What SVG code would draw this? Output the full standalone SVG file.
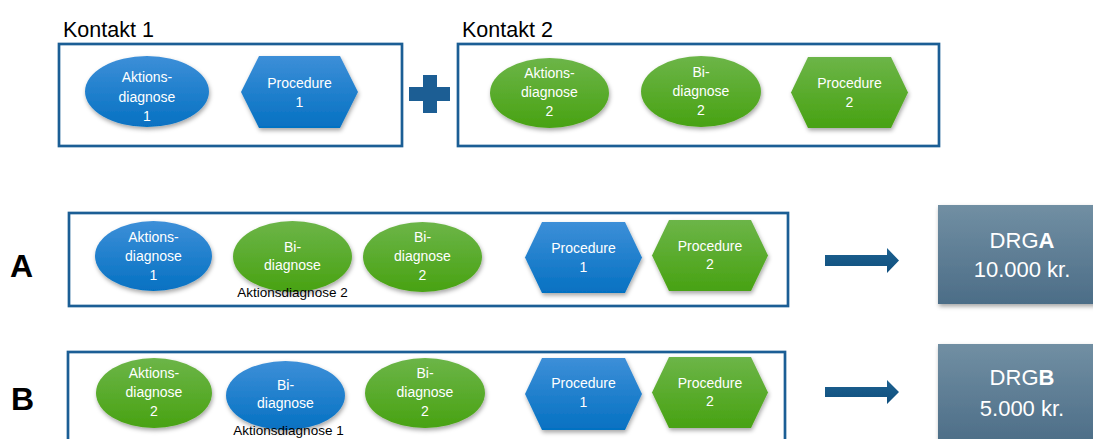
<svg xmlns="http://www.w3.org/2000/svg" width="1093" height="439" viewBox="0 0 1093 439">
<defs>
<linearGradient id="gBlue" x1="0" y1="0" x2="0" y2="1"><stop offset="0" stop-color="#3d8fd8"/><stop offset="1" stop-color="#0571c2"/></linearGradient>
<linearGradient id="gGreen" x1="0" y1="0" x2="0" y2="1"><stop offset="0" stop-color="#6cb548"/><stop offset="1" stop-color="#48a212"/></linearGradient>
<linearGradient id="gDrg" x1="0" y1="0" x2="0" y2="1"><stop offset="0" stop-color="#718fa3"/><stop offset="1" stop-color="#4c6d87"/></linearGradient>
<linearGradient id="gArrow" x1="0" y1="0" x2="0" y2="1"><stop offset="0" stop-color="#1d6190"/><stop offset="1" stop-color="#0f4f7e"/></linearGradient>
<filter id="sh" x="-20%" y="-20%" width="140%" height="150%"><feDropShadow dx="1" dy="2.5" stdDeviation="2" flood-color="#000" flood-opacity="0.35"/></filter>
</defs>
<style>
.frame{fill:#fff;stroke:#1b5e95;stroke-width:2.7}
.blue{fill:url(#gBlue);filter:url(#sh)}
.green{fill:url(#gGreen);filter:url(#sh)}
.drg{fill:url(#gDrg);filter:url(#sh)}
.arr{fill:url(#gArrow)}
.w{font-family:"Liberation Sans",Arial,sans-serif;font-size:14px;fill:#fff;text-anchor:middle}
.title{font-family:"Liberation Sans",Arial,sans-serif;font-size:21.5px;fill:#000}
.letter{font-family:"Liberation Sans",Arial,sans-serif;font-size:32px;font-weight:bold;fill:#000}
.note{font-family:"Liberation Sans",Arial,sans-serif;font-size:13.5px;fill:#000;text-anchor:middle}
.dt{font-family:"Liberation Sans",Arial,sans-serif;font-size:22px;fill:#fff;text-anchor:middle}
</style>

<g id="kontakt1">
<text class="title" x="63" y="37">Kontakt 1</text>
<rect class="frame" x="59" y="44" width="343" height="102"/>
</g>
<g id="k1-aktionsdiagnose1">
<ellipse class="blue" cx="147" cy="91.5" rx="62" ry="35.5"/>
<text class="w" x="147" y="82">Aktions-</text>
<text class="w" x="147" y="102">diagnose</text>
<text class="w" x="147" y="121">1</text>
</g>
<g id="k1-procedure1">
<polygon class="blue" points="241,92 259,56 340,56 358,92 340,128 259,128"/>
<text class="w" x="299.5" y="88">Procedure</text>
<text class="w" x="299.5" y="107">1</text>
</g>
<g id="plus">
<rect x="409" y="87" width="41" height="14" fill="#1c5e94"/>
<rect x="423" y="75" width="14" height="38" fill="#1c5e94"/>
</g>
<g id="kontakt2">
<text class="title" x="462" y="37">Kontakt 2</text>
<rect class="frame" x="458" y="44" width="481" height="102"/>
</g>
<g id="k2-aktionsdiagnose2">
<ellipse class="green" cx="549.5" cy="93" rx="59.5" ry="35"/>
<text class="w" x="549.5" y="78">Aktions-</text>
<text class="w" x="549.5" y="97">diagnose</text>
<text class="w" x="549.5" y="116">2</text>
</g>
<g id="k2-bidiagnose2">
<ellipse class="green" cx="701" cy="91.5" rx="60" ry="35.5"/>
<text class="w" x="701" y="77">Bi-</text>
<text class="w" x="701" y="96">diagnose</text>
<text class="w" x="701" y="115">2</text>
</g>
<g id="k2-procedure2">
<polygon class="green" points="791,92.5 808,57 891,57 908,92.5 891,128 808,128"/>
<text class="w" x="849.5" y="88">Procedure</text>
<text class="w" x="849.5" y="107">2</text>
</g>

<g id="rowA">
<text class="letter" x="10" y="277">A</text>
<rect class="frame" x="69" y="213" width="719" height="93"/>
</g>
<g id="a-aktionsdiagnose1">
<ellipse class="blue" cx="153.5" cy="256" rx="58.5" ry="35"/>
<text class="w" x="153.5" y="242">Aktions-</text>
<text class="w" x="153.5" y="261">diagnose</text>
<text class="w" x="153.5" y="280">1</text>
</g>
<g id="a-bidiagnose">
<ellipse class="green" cx="292.5" cy="256.5" rx="59.5" ry="35.5"/>
<text class="w" x="292.5" y="252">Bi-</text>
<text class="w" x="292.5" y="270">diagnose</text>
<text class="note" x="292.5" y="297">Aktionsdiagnose 2</text>
</g>
<g id="a-bidiagnose2">
<ellipse class="green" cx="422.5" cy="257" rx="59.5" ry="35"/>
<text class="w" x="422.5" y="242">Bi-</text>
<text class="w" x="422.5" y="261">diagnose</text>
<text class="w" x="422.5" y="280">2</text>
</g>
<g id="a-procedure1">
<polygon class="blue" points="525,257.5 542,222 625,222 642,257.5 625,293 542,293"/>
<text class="w" x="583.5" y="253">Procedure</text>
<text class="w" x="583.5" y="272">1</text>
</g>
<g id="a-procedure2">
<polygon class="green" points="652,255.5 669,220 751,220 768,255.5 751,291 669,291"/>
<text class="w" x="710" y="251">Procedure</text>
<text class="w" x="710" y="269">2</text>
</g>
<g id="drgA">
<rect class="drg" x="938" y="205" width="160" height="99"/>
<text class="dt" x="1022" y="248">DRG<tspan font-weight="bold">A</tspan></text>
<text class="dt" x="1022" y="277">10.000 kr.</text>
</g>

<g id="rowB">
<text class="letter" x="11" y="410">B</text>
<rect class="frame" x="68" y="352" width="717" height="92"/>
</g>
<g id="b-aktionsdiagnose2">
<ellipse class="green" cx="154" cy="393" rx="58" ry="35"/>
<text class="w" x="154" y="378">Aktions-</text>
<text class="w" x="154" y="397">diagnose</text>
<text class="w" x="154" y="416">2</text>
</g>
<g id="b-bidiagnose">
<ellipse class="blue" cx="285.5" cy="395.5" rx="59.5" ry="34.5"/>
<text class="w" x="285.5" y="390">Bi-</text>
<text class="w" x="285.5" y="408">diagnose</text>
<text class="note" x="288.5" y="435">Aktionsdiagnose 1</text>
</g>
<g id="b-bidiagnose2">
<ellipse class="green" cx="425" cy="393" rx="60" ry="35"/>
<text class="w" x="425" y="378">Bi-</text>
<text class="w" x="425" y="397">diagnose</text>
<text class="w" x="425" y="416">2</text>
</g>
<g id="b-procedure1">
<polygon class="blue" points="525,394 542,358 625,358 642,394 625,430 542,430"/>
<text class="w" x="583.5" y="388">Procedure</text>
<text class="w" x="583.5" y="407">1</text>
</g>
<g id="b-procedure2">
<polygon class="green" points="652,392.5 669,357 751,357 768,392.5 751,428 669,428"/>
<text class="w" x="710" y="388">Procedure</text>
<text class="w" x="710" y="406">2</text>
</g>
<g id="drgB">
<rect class="drg" x="938" y="344" width="160" height="100"/>
<text class="dt" x="1022" y="385">DRG<tspan font-weight="bold">B</tspan></text>
<text class="dt" x="1022" y="416">5.000 kr.</text>
</g>

<g id="connectors">
<path class="arr" d="M825,255 H887 V248 L899,260.5 L887,273 V266 H825 Z"/>
<path class="arr" d="M825,387 H887 V380 L899,392 L887,404 V397 H825 Z"/>
</g>
</svg>
